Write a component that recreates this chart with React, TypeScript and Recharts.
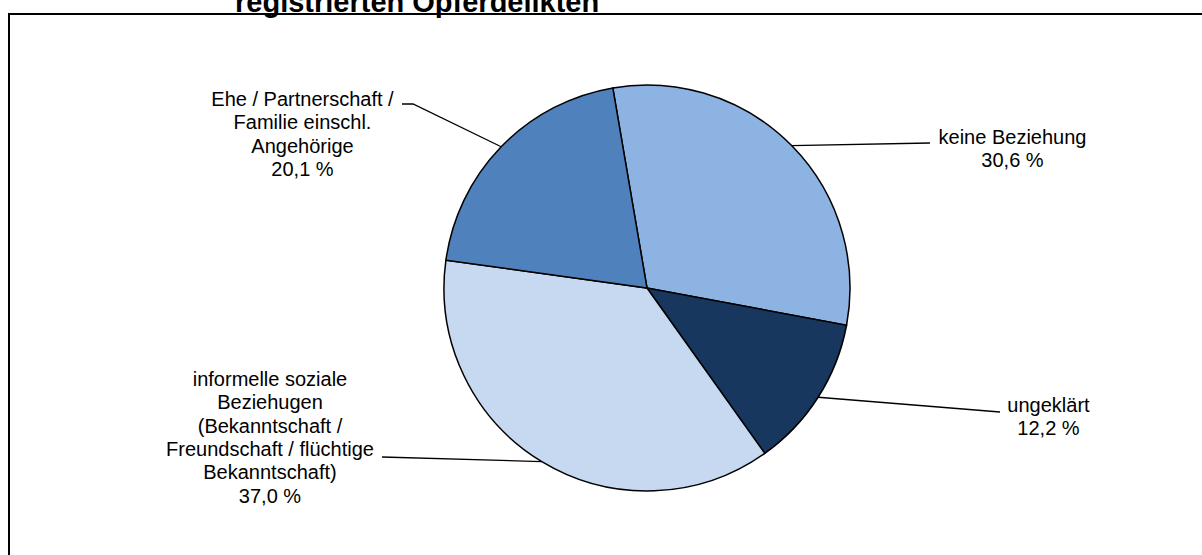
import React from 'react';
import { PieChart, Pie, Cell } from 'recharts';

// ---- data ----
const categories: string[] = [
  'keine Beziehung',
  'ungeklärt',
  'informelle soziale Beziehugen (Bekanntschaft / Freundschaft / flüchtige Bekanntschaft)',
  'Ehe / Partnerschaft / Familie einschl. Angehörige',
];
const values: number[] = [30.6, 12.2, 37.0, 20.1];
const labelLines: string[][] = [
  ['keine Beziehung'],
  ['ungeklärt'],
  ['informelle soziale', 'Beziehugen', '(Bekanntschaft /', 'Freundschaft / flüchtige', 'Bekanntschaft)'],
  ['Ehe / Partnerschaft /', 'Familie einschl.', 'Angehörige'],
];
const titleText = 'registrierten Opferdelikten';

// ---- style / layout ----
const colors = ['#8DB3E2', '#17375E', '#C6D9F1', '#4F81BD'];
const FONT = '"Liberation Sans", Arial, Helvetica, sans-serif';
const LINE_H = 23.3;
// label layout relative to the pie centre: text centre x, first baseline y, leader path points
const LABEL_LAYOUT = [
  { tx: 365.5, ty: -144, path: [[283, -145]] },
  { tx: 401.5, ty: 124, path: [[353, 124]] },
  { tx: -377, ty: 98, path: [[-265, 169]] },
  { tx: -344.5, ty: -182, path: [[-234, -184], [-245, -184]] },
];

const fmt = (v: number) => v.toFixed(1).replace('.', ',') + ' %';

const data = categories.map((name, i) => ({ name, value: values[i] }));

const renderLabel = (props: any) => {
  const { cx, cy, midAngle, outerRadius, index } = props;
  const RAD = Math.PI / 180;
  const sx = cx + outerRadius * Math.cos(-midAngle * RAD);
  const sy = cy + outerRadius * Math.sin(-midAngle * RAD);
  const L = LABEL_LAYOUT[index];
  const pts = [[sx, sy], ...L.path.map(([dx, dy]) => [cx + dx, cy + dy])];
  const lines = [...labelLines[index], fmt(values[index])];
  const x = cx + L.tx;
  return (
    <g key={`lbl-${index}`}>
      <polyline
        points={pts.map((p) => p.join(',')).join(' ')}
        fill="none"
        stroke="#000"
        strokeWidth={1.3}
      />
      <text x={x} y={cy + L.ty} textAnchor="middle" fontFamily={FONT} fontSize={20} fill="#000">
        {lines.map((t, i) => (
          <tspan key={i} x={x} dy={i === 0 ? 0 : LINE_H}>
            {t}
          </tspan>
        ))}
      </text>
    </g>
  );
};

export default function App() {
  return (
    <div style={{ position: 'absolute', left: 0, top: 0, width: 1202, height: 555, background: '#fff', overflow: 'hidden' }}>
      <div
        style={{
          position: 'absolute',
          left: 235,
          top: -12,
          fontFamily: FONT,
          fontWeight: 'bold',
          fontSize: 29,
          lineHeight: '29px',
          whiteSpace: 'nowrap',
          color: '#000',
        }}
      >
        {titleText}
      </div>
      <div
        style={{
          position: 'absolute',
          left: 8,
          top: 13,
          width: 1202,
          height: 600,
          borderLeft: '2px solid #000',
          borderTop: '2px solid #000',
        }}
      />
      <div style={{ position: 'absolute', left: 0, top: 0 }}>
        <PieChart width={1202} height={555} margin={{ top: 0, right: 0, bottom: 0, left: 0 }}>
          <Pie
            data={data}
            dataKey="value"
            nameKey="name"
            cx={647}
            cy={288}
            outerRadius={203}
            startAngle={99.7}
            endAngle={-260.3}
            stroke="#000"
            strokeWidth={1.5}
            label={renderLabel}
            labelLine={false}
            isAnimationActive={false}
          >
            {data.map((d, i) => (
              <Cell key={d.name} fill={colors[i]} />
            ))}
          </Pie>
        </PieChart>
      </div>
    </div>
  );
}
